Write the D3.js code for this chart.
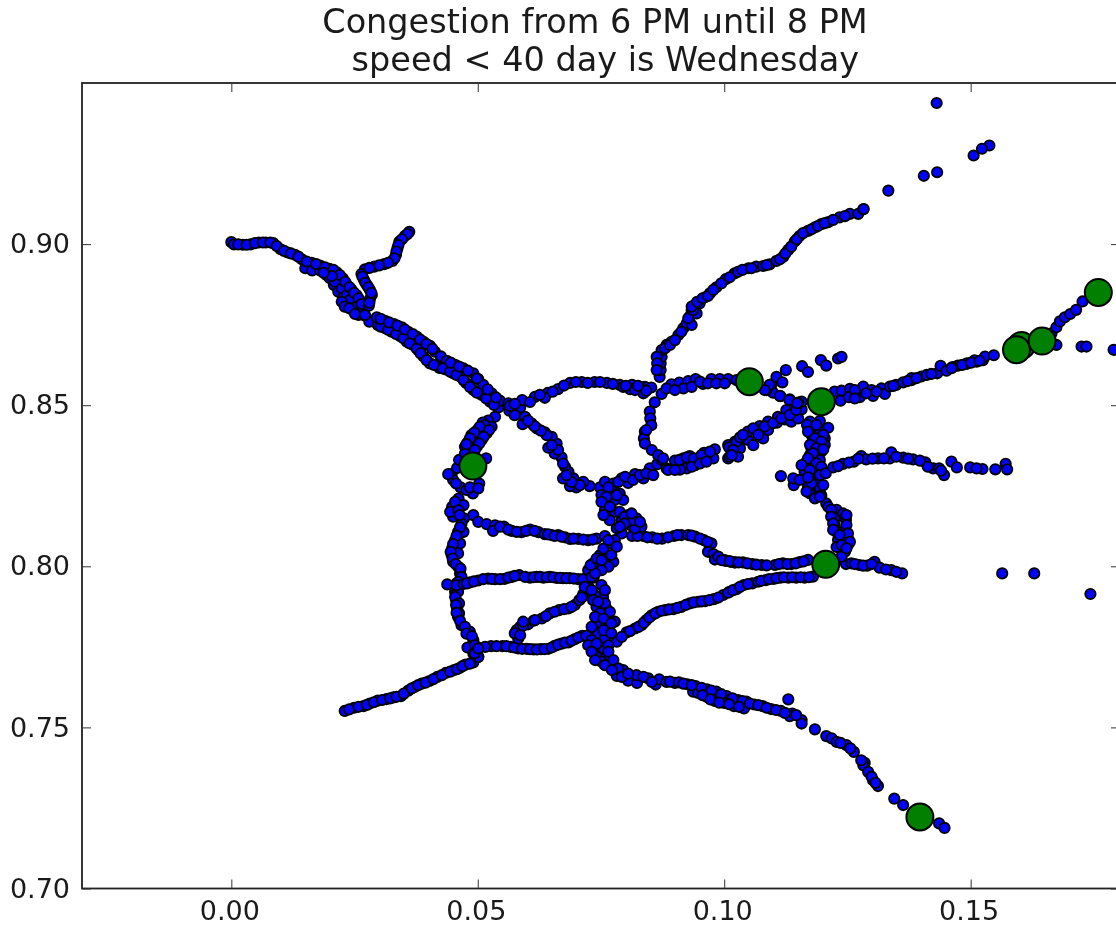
<!DOCTYPE html>
<html>
<head>
<meta charset="utf-8">
<script src="https://d3js.org/d3.v7.min.js"></script>
<style>
    html, body { margin: 0; padding: 0; background: #fff; overflow: hidden; }
    svg { filter: blur(0.5px); }
    text { font-family: "DejaVu Sans"; fill: #1a1a1a; }
</style>
</head>
<body>
<svg width="1116" height="927"></svg>
<script>
// all readings are [x, y] in thousandths
const roadNorthWest = [[0,900.6],[0.55,899.9],[2.3,899.8],[3.9,899.9],[5.6,900.5],[7,900.5],[8.5,900.3],[10,898.4],[11.4,897.4],[12.9,896.7],[14.3,895.3],[16.3,894.2],[18,893.3],[19.9,892.3],[21.4,891.2],[22.6,889.4],[23.5,887.3],[24.4,885.8],[25.4,884.2],
    [15,892.5],[16.4,891.8],[18,891.8],[19.3,890.4],[20.8,887.3],[21.7,885.2],[22.7,883.5],[23.5,881.6],[24.6,879.6],[25.8,878],[27.1,877.8],[28,875.9],
    [20,889.4],[21,888.3],[22.4,886.3],[23.4,884.2],[24.1,882.7],[25.4,880.6],[26.4,879.5],
    [29.7,874.9],[31.2,873.9],[32.5,872.8],[34.2,871.5],[35.6,869.7],[36.9,868.7],[37.9,867.1],[39,865.1],[40.3,863],[42.2,861.6],[43.5,861.1],[45,859.9],[46.4,858.9],[47.7,856.8],[49.1,854.7],[50.8,853.2],[52.5,851.1],[54.2,849.3],
    [29.5,877.3],[31.2,876.2],[33,875.2],[34.6,874.2],[35.9,872.8],[37.6,871.3],[39,869.7],[40.3,868.4],[41.3,866.6],[42.5,865.2],[43.7,863.8],[45.4,862.5],[47.1,861.4],[49.1,859.9],[50.1,858.1],[51.1,856.3],[52.8,853.7],[54.5,851.4],[56.2,850.6],
    [1.4,899.9],[3.1,899.8],[4.8,900.3],[6.4,900.5],[7.9,900.5],[9.2,899.4],[10.7,897.9],[12.1,897.1],[13.6,896.1],[15.3,894.6],[17.2,893.8],[19,892.8],[20.7,892],[22,890.4],[23.1,888.3],[24,886.6],[24.9,884.9],[25.8,883.2],[26.4,881.4],[20.4,890.1],[18.7,891.1],[22.4,882.1],[23,880.6],[23.9,880.1],[25.1,878.3],
    [30.3,874.4],[31.8,873.4],[33.4,872.1],[34.9,870.8],[36.2,869.2],[37.6,867.6],[38.4,866.1],[39.6,864],[41.1,862.5],[42.9,861.4],[44.4,860.4],[45.7,859.4],[47.1,857.8],[48.4,855.7],[49.8,853.9],[51.7,852.1],[53.3,850.1],
    [30.3,876.8],[32,875.7],[33.7,874.7],[35.2,873.5],[36.8,872.1],[38.3,870.4],[39.6,869],[40.8,867.5],[44.5,863.2],[46.2,862],[48,860.7],[49.8,858.3],[52,854.9],[53.7,852.4]];
const roadSpur = [[36.1,903.8],[35.2,902.5],[34.1,900.8],[33.7,898.7],[33.4,896.6],[32.7,894.8],[31,893.8],[29,893],[27.1,892.2],[26.4,890.7],[26.9,888.9],[27.5,887.3],[28.1,885.8],[28.5,884.2],[28.1,882.9],[27.9,880.9],[27.1,878],
    [35.7,903.1],[34.6,901.5],[33.9,899.7],[33.5,897.7],[33.1,895.6],[31.8,894.2],[30,893.4],[28,892.6],[26.6,889.9],[27.2,888],[27.8,886.6],[28.4,884.9],[28,881.8]];
const loopWest = [[53.5,846.4],[52.1,845.2],[51,844.6],[49.9,842.3],[48.7,840.7],[48.1,838.7],[47.4,837.1],[52.8,843.3],[51.8,841.3],[50.8,839.2],[49.8,837.1],[51.7,833.5],[50.3,825.7],[44.7,828.6],[45,826.8],[46.5,824.5],[49,822.6],[47.7,823.7],[46.1,821],[44.8,818.5],[45,815.4],[47.2,814.9],[47.1,819],[45.8,830.5],[46.2,833],[47.4,835],
    [46.7,813.3],[46,810.7],[45.4,808.1],[44.8,805.5],[44.7,803.5],[45,801.4],[46,799.9],[46.4,797.8],[45.7,794.7],[45.4,792.1],[45.6,789.5],[45.8,786.9],[46,784.3],[46.7,781.7],[48.4,779.7],[49.1,777.1],[50.1,774.8],[47.9,774.8],[47.1,810.7],[46.4,807.1],[46,804],
    [51.4,843.8],[50.4,843.3],[49.3,841.5],[48.4,839.7],[47.7,837.9],[52.3,842.3],[51.2,840.2],[50.3,838.1],[49.4,836.1],[44,828.6],[45.6,825.7],[48.4,824.5],[50.1,824.2],[45.4,820],[44.4,816.9],[46.1,817.4],[46.3,815.9],
    [46.4,812.1],[45.7,809.5],[45,806.9],[44.5,804.5],[44.9,802.4],[45.5,800.7],[46.5,799.3],[46.7,796.7],[46.1,795.2],[45.4,793.4],[46,792.1],[45.4,790.5],[46.2,788.5],[45.6,788],[46.2,785.4],[45.7,785.6],[46.4,783.1],[47.4,781.2],[47.7,779.1],[48.8,778.3],[49.4,775.5],[49.1,772.9],[50.1,771.9]];
const rowMiddle = [[49.1,815.9],[50.1,813.8],[51.8,813.1],[53.5,812.7],[53.1,811],[55.3,812.3],[56.9,811],[58.9,810.6],[60.6,811.4],[62.3,810.6],[63.6,810],[65,809.7],[66.3,809.7],[67.7,809],[68.7,808.5],[70.4,808.5],[72.4,808.1],[74.1,808.6],[75.8,809.4],
    [79.2,810.2],[81.3,809.4],[83.6,809.4],[85.4,809],[87.4,808.6],[89.8,809.4],[91.3,809.7],[92.7,809.7],[94.1,809.2],[95.9,808.1],[97.4,807.1],[96.7,804.5],[97.8,803.8],[98.1,802.1],[100.3,801.7],[102.2,801.2],
    [100.1,801.9],[102.1,801.2],[103.8,801.2],[105.7,800.7],[107.6,800.4],[110.3,800.4],[111.9,800.9],[113.6,800.7],[115.3,801.3],[117,802],[124.7,800.7],[125.8,800.9],[127.4,800.4],[129,800.2],[130.5,801.4],[131.5,799.6],[133.9,798.8],[136.1,797.8],
    [54.5,812.3],[56.2,811.4],[57.9,810.7],[59.8,811],[61.5,811],[64.3,809.9],[65.6,809.4],[67,809.2],[69.4,808.6],[71.4,808.3],[73.3,808.3],[82.4,809.4],[84.4,809],[86.4,808.6],[88.6,809],[90.5,809.7],[93.4,809.5],[95.1,808.6],[96.6,807.6],[98.8,803],[99.5,801.9],[101.3,801.4],
    [101.1,801.6],[102.9,801.2],[104.7,800.9],[106.5,800.5],[108.6,800.3],[111.1,800.7],[112.8,800.7],[114.5,800.9],[116.1,801.5],[126.5,800.7],[128.2,800.2],[129.9,800.7],[132.8,799],[134.9,798.3]];
const rowLower = [[43.8,794.4],[45.7,794.1],[47.1,794.5],[48.4,795],[50.1,795.6],[52.1,796.2],[53.5,796],[55.4,796.1],[56.9,796.7],[58.4,797.3],[60.6,796.5],[61.9,796.7],[63.3,796.5],[64.6,796.7],[66,796.4],[67.3,796.3],[68.7,796.3],[70.4,796],[72.2,795.9],
    [47.8,794.7],[49.2,795.3],[51.1,796],[52.8,796.1],[54.5,796],[56.2,796.5],[57.5,797],[59.6,796.7],[61.3,796.6],[62.6,796.7],[64,796.6],[65.3,796.6],[66.7,796.4],[68,796.3],[69.5,796.2],[71.3,796]];
const rowBottom = [[52.7,775.2],[55,775.2],[56.7,775],[58.2,774.5],[59.9,774.4],[61.3,774.2],[62.8,774.3],[64.3,774.4],[65.6,775.3],[67,776],[68.4,776.4],[69.7,777.4],[71.2,778.4],[72.8,778.4],[74.4,779.2],
    [51.5,775],[53.8,775.2],[55.8,775.2],[57.4,774.8],[59,774.4],[60.6,774.3],[62,774.2],[63.5,774.3],[65,774.8],[66.3,775.7],[67.7,776.3],[69,776.9],[70.4,777.9],[72,778.4]];
const branchDiagonal = [[58.2,777.6],[57.9,780.2],[58.6,781.2],[60.2,782],[61.3,783.1],[63,783.8],[64.6,785.4],[66.5,786.4],[68.4,786.9],[69.7,788],[71.4,791.4],[70.6,789.5],[72.4,798.8],[73.4,800.9],[74.4,800.4],[74.8,803.5],[76.1,802.4],[75.5,805.5],[77.1,807.1],[77.8,808.1],[77.5,801.4],[76.5,799.9],[75.1,798.8],[72.5,793.5],[73.5,796.5],
    [59.2,781.6],[61.6,783.3],[63.8,784.5],[65.6,785.9],[67.5,786.7],[69,787.4],[71.1,790.3],[59.2,782.8],[57.5,779.2],[58.6,778.6],[71.7,793.6],[73.1,796.7],[73.8,797.8],[72.9,800.4],[74.1,802.4],[75.1,801.9],[77.1,803.5],[78.2,806.1],[76.5,808.1]];
const clusterCentre = [[72.7,824.9],[74.8,824.5],[75.8,826.2],[77.5,825.7],[79.2,827.3],[80.5,825.9],[81.9,828.6],[83.6,827.3],[84.9,830.4],[86.4,831.7],[88.3,830.4],[75.1,822.1],[77.1,823.7],[78.8,822.6],[79.5,820.6],[77.8,820.6],[75.8,819.5],[77.8,816.9],[75.8,817.4],[76.8,814.3],[79.2,814.3],[80.5,815.9],[82.2,814.9],[83.2,812.3],[80.9,812.8],[81.9,811.8],[78.2,811.8],
    [76.5,824.5],[78.5,826.2],[79.9,827.8],[81.5,826.8],[82.9,828.3],[84.2,828.8],[85.6,828.3],[87.3,833],[88.6,829.9],[76.1,821.6],[78.2,822.1],[75.1,820],[76.8,818.5],[78.8,816.9],[75.5,815.9],[79.8,815.4],[81.5,814.3],[82.9,813.8],[79.8,813.3],[78.8,812.3],[81.2,816.4]];
const roadToEast = [[90,832.8],[91.7,833.5],[93,834.2],[94.7,833],[95.9,835.2],[98.1,836.3],[92.4,830.4],[91,830],[94.1,831.4],[97.8,833.5],[100.8,833.5],[100.8,837.6],[102.2,838.7],[103.2,836.6],
    [101,836.9],[102.5,838.7],[104.8,839.2],[104.8,841.8],[105.9,837.6],[107.2,843.5],[107.9,839.7],[108.9,844.9],[108.9,842.3],[110.7,844.6],[112.3,845.6],[113.6,844.9],[112.6,848.5],[115,845.9],[115.7,848.7],[101.1,834],[102.8,834],[101.8,836.1],[110.9,846.4],[114.3,849.6],[103.2,840],
    [122.4,854.2],[123.8,854.5],[125.5,855.1],[123.6,851.4],[125.3,852.5],[127.5,852.5],[128.2,855.8],[129.9,854.7],[130.2,852.9],[131.9,855.2],[132.6,853.5],[133.6,855.8],[134.9,856.3],[136.3,857.1],[138,857.8],[140,858.9],[141.1,859.4],[143.2,859.9],[143.9,862.2],[145.1,860.7],[147.4,862.3],[149.1,862.8],[151.2,863.5],[152.5,864],
    [146.3,861.8],[149.3,863],[150.8,863.9],[152.9,865.1],[154.7,865.5],[138,858.4],[167.4,868.7],[166.4,872.3],[167.4,874.2],[168.1,876],[169.1,877.3],[170.2,878.3],[171.4,879.6],[172.7,882.2],
    [90.9,833],[92.4,833.8],[93.8,833.5],[95.4,834.5],[97.1,835.6],[90,829.9],[93.4,830.9],[95.1,831.9],[96.4,832.5],[101.8,836.1],[101.5,834.5],
    [103.8,840.8],[105.9,842.8],[106.9,840.8],[108.2,843.4],[109.9,844.4],[111.6,845.9],[113.3,847],[114.6,848.5],[115.7,851.1],
    [126.5,854.7],[126.5,852.1],[128.8,853.7],[130.9,854.2],[134.3,856],[137.2,857.5],[139,858.4],[142,859.7],[146.1,861.5],[148.3,862.5],[150.1,863.2],[151.8,863.8]];
const diagonalNorthSouth = [[71.4,826.2],[70,824.5],[68.7,824.9],[67.3,827.3],[69.4,827.3],[68.4,829.3],[67.7,830.9],[67,833.8],[65.6,835],[64.3,836.8],[66,838.1],[65,840.2],[63.6,841.6],[62,842.8],[60.9,844.4],[59.1,844.1],[59.6,846.4],[58.6,849.3],[56.4,848.3],[57.5,846.9],
    [70.7,825.2],[69,826.2],[68,828.3],[67.3,831.9],[66.3,836.1],[65,837.6],[64,840.7],[62.8,842.1],[61.5,843.5],[60.2,845.2]];
const roadCentreNorth = [[56.5,849.8],[59,851.6],[61.6,852.6],[64.2,853.8],[66.3,855],[68.7,856.9],[71.1,857.2],[73.7,857.2],[76.2,856.9],[78.8,856.3],[81.3,856.3],[83.9,855.7],[60.6,851],[63.6,852.3],[80.9,855],[82.9,855.7],[85.2,855.5],[87.3,853.5],[89.3,856.5],[90.9,857],[92.7,857.5],[94.2,858.1],[97.4,858.1],[99.1,858.1],[100.8,858.1],[95.7,856.6],[91.7,855.2],[83.6,853.7],[102.5,857.8],
    [109.6,856.5],[109.9,853.9],[111.4,852.8],[113.3,851.8],[115,850.8],[108.6,854.7],[109.2,856.3],[108.2,854.7],[111.3,852.9],[113.2,851.6],[114.8,850.6],
    [79.5,855.7],[81.9,854.7],[84.2,854.5],[88.3,855.2],[90,854.7],[93.4,855.7],[95.1,857.3],[96.7,856.8],[98.4,856.8],[100.1,856.8],
    [57.5,850.4],[62.6,853.2],[65.2,854.2],[67.5,856.1],[69.9,857.2],[72.3,856.9],[74.8,857.2],[77.4,856.6],[80,856],[82.5,856]];
const roadNorthEast = [[86.9,858.8],[87.1,860.9],[87.1,863],[87.3,865],[87.3,867.1],[88.3,868.7],[89.3,869.7],[90.7,871.8],[91.7,873.9],[92.4,875.4],[93,877.5],[93.4,879.5],[94,881.1],[96.1,883.5],[97.1,884.7],[98.4,886.6],[100.3,889.1],[102.1,890.9],[104.9,892.5],[106.5,893],[107.9,893.2],[109.2,893.7],[110.6,894.8],[112,896.1],[113,898.2],[114.3,900.8],[115.3,902.5],[117,904.1],[118.4,905.2],[119.7,906.2],[121.1,906.8],[123.4,908.3],[125.5,909.4],[127.2,909.4],[128.2,910.8],[94.4,878.5],[93.4,874.9],
    [85.9,850.9],[84.9,848],[85,845.9],[85.2,843.8],[83.9,841.8],[83.7,839.7],[83.9,838.1],[85.3,836.1],[86.6,834.5],[87.6,833.5],
    [86.3,865],[86.4,863],[86.3,860.9],[88,867.7],[89,868.7],[90,870.2],[91.3,872.8],[92.7,877],[93.7,879.5],[93.4,880.6],[95,881.6],[94.5,882.1],[95.6,883.2],[96.7,883.9],[97.8,885.8],[99.4,887.8],[101.1,889.7],[102.8,891.4],[103.7,892],[105.5,892.5],[108.6,893.5],[111.3,895.3],[112.4,897.1],[113.6,899.2],[114.7,901.5],[116,903.4],[117.7,904.6],[119,905.6],[120.4,906.5],[122.1,907.5],[124.5,908.7],[84.2,842.3]];
const roadEastVertical = [[117.4,844.9],[119.4,845.1],[117.4,842.8],[121.1,843],[119.4,841.8],[117.7,840.8],[120.4,839.7],[118,838.7],[120.4,837.7],[117.7,836.6],[119.7,835.6],[117.4,834.5],[119.4,833],[116.7,832.5],[116.3,830.7],[118.4,830.7],[116.3,829.4],[118.4,828.3],[117,827.3],[119,826.3],[117,824.7],[119.4,824.2],[117.4,822.6],[118.4,821.1],[119.7,822],[120.7,819.5],[121.1,818.5],[122.8,817.5],[124.1,816.4],[122.4,814.9],[124.7,814.4],[122.4,812.8],[124.5,811.3],[122.8,810.7],[125.1,808.7],[123.1,808.2],[125.1,806.6],[124.5,804.5],[122.8,806],[123.8,803],
    [116.8,843.9],[118.7,843.9],[117,841.8],[120.1,840.8],[118.4,839.7],[119.7,838.7],[117.4,837.7],[118.7,836.6],[120.1,836.3],[118,835.1],[117,833.5],[118.7,832],[119.7,830.9],[115.7,831.4],[117.4,829.9],[119.4,828.3],[117.7,825.7],[120.1,825.2],[116.7,823.2],[119.4,821.6],[121.7,817.5],[124.8,815.9],[121.7,815.4],[122.1,813.3],[124.8,812.8],[122.1,811.3],[125.1,810.2],[123.4,809.7],[125.5,807.6],[123.8,806.6],[124.8,805.6]];
const branchEast = [[111.5,828],[114.1,825.2],[114,827.3],[115.3,826.8],[117,827.6],[120.6,828.9],[122.1,830.7],[124.1,831.8],[126.3,832.5],[127.8,834.2],[128.8,833.2],[131.2,833.5],[133.6,833.5],[133.9,835.4],[136.3,833.7],[138.3,833.2],[140.8,832.3],[142.4,830.4],[143.6,830.4],[144.6,828.3],[146.1,832.5],[147.2,830.7],[149.9,830.7],[152.4,830.2],[155,830.1],[157.1,831.8],[157.4,830.1],
    [123.1,831.1],[125.3,832.2],[127.2,833.4],[130.1,833.4],[132.4,833.5],[134.9,834],[137.3,833.4],[139.7,832.8],[141.3,830.9],[144,829.7],[151.2,830.4]];
const roadSouthEastUpper = [[78.2,776.6],[80.2,779.5],[81.9,780.7],[83.2,781.7],[84.2,783.3],[85.3,784.8],[86.6,785.9],[88,786.4],[89.7,786.7],[91.3,787.4],[93,788.5],[94.7,789],[96.1,789.2],[97.9,789.8],[99.8,791.1],[101.1,792.1],[102.5,792.9],[104,794.2],[105.7,794.7],[106.9,795.2],[108.4,795.7],[110,796.1],[111.4,796.5],[113,796.5],[114.6,796.5],[116.3,796.5],[118,796.8],
    [79.2,778.1],[80.9,779.9],[82.6,781.2],[83.7,782.5],[84.8,784.1],[86,785.4],[87.3,786.2],[88.8,786.6],[90.5,787.1],[92.2,788],[93.8,788.8],[95.4,789.1],[97,789.5],[98.8,790.3],[100.8,791.8],
    [101.8,792.6],[103.2,793.6],[104.8,794.5],[107.5,795.5],[109.1,796],[110.6,796.3],[112.1,796.6],[113.8,796.6],[115.5,796.6],[117.2,796.6]];
const centralVertical = [[75.1,794.2],[75.4,790.5],[73.8,791],[74.1,787.4],[76.1,786.9],[74.8,785.4],[76.5,784.3],[74.1,782.3],[77.8,782.8],[76.5,780.7],[75.8,777.6],[73.1,777.1],[73.4,774.5],[75.5,774.5],[74.1,771.9],[76.1,771.9],[75.1,770.4],[76.8,769.3],[78.2,766],[79.5,767.8],[80.5,764.5],[82.3,763.8],[82.2,766.2],[84.6,765.2],[86.1,763.3],[86.8,764.9],
    [75.8,792.6],[73.1,792.6],[73.4,789.5],[75.8,788.5],[74.4,789],[76.8,785.9],[73.8,784.3],[75.5,783.8],[77.1,782.3],[73.1,781.2],[75.5,780.2],[77.1,779.2],[72.4,775.5],[74.1,776],[76.5,775.5],[73.1,773.5],[76.5,773.5],[73.8,770.9],[77.5,770.9],[75.8,769.3],[78.5,768.3],[77.2,767.8],[79.2,765.7],[80.5,766.7],[83.6,765.7],[85.3,764.1],[88.3,764.1],[90,763.8]];
const roadSouthEast = [[89,764.2],[90.8,764],[92.5,763.4],[94.2,762.8],[96.5,761.8],[98.4,761.1],[100.5,759.7],[102.8,758.5],[104.5,758],[106.1,757.1],[107.8,756.6],[109.5,755.7],[111.5,755.1],[113,758.7],[113.8,754.3],[115.7,752.3],[115.7,751.2],[93.7,761.1],[94.7,760.7],[96.4,759.5],[98.1,758.2],[100,757.6],[102,756.6],[104,755.9],[113.3,753.5],
    [118.4,749.4],[120.7,747.3],[121.8,746.6],[122.8,745.5],[124.8,744.5],[126.3,742.4],[128.5,739],[128.2,738.3],[129.2,736.2],[130.2,733.6],[131.2,731.8],[134.5,727.9],[136.3,725.9],[143.6,720.2],[144.7,718.8],
    [91.7,763.6],[93.4,763.1],[95.4,762.3],[97.4,761.4],[99.4,760.3],[101.7,759],[103.7,758.2],[105.2,757.4],[106.9,756.9],[108.6,756.1],[110.5,755.4],[112.3,754.5],[114.6,753.8],[95.6,760],[97.2,758.7],[99,757.7],[101,757.2],[103,756.4],[123.6,745.2],[125.6,743.5],[127.8,739.8],[129.9,734.7],[130.7,732.8]];
const roadSouthWest = [[23,755.1],[24.9,756.1],[26.8,756.6],[28.1,757.4],[29.7,758.3],[31.5,758.8],[32.9,759.3],[34.4,759.7],[35.9,761.4],[37.3,762.6],[38.6,763.6],[40.2,764.4],[41.8,765.7],[43.5,766.9],[45.2,767.8],[46.4,768.5],[47.5,769.5],[49.1,770.2],[50.1,771.9],[49.4,773],[50.1,774.5],
    [23.9,755.6],[25.8,756.4],[27.5,757],[28.9,757.8],[30.6,758.5],[32.2,759],[33.5,759.5],[35,760.5],[36.6,762.1],[37.9,763.1],[39.4,763.9],[41,765],[42.7,766.2],[44.4,767.3],[45.8,768.1],[46.9,769],[48.4,769.8]];
const isolated = [[143.1,943.8],[153.8,930.6],[152.3,929.6],[150.6,927.5],[143.2,922.3],[140.5,921.2],[133.3,916.6],[128.3,910.9],[110.6,858.8],[112.5,860.9],[111.8,857.1],[115.8,862.1],[117,860.3],[119.6,864],[120.7,862.3],[123.1,864.5],[123.8,865],[172.5,868.2],[173.5,868.2],[179,867.2],[156.4,797.8],[162.9,797.8],[174.3,791.4]];

// congested points, drawn over the others
const congested = [[49,831.1],[105.1,857.3],[119.7,851.1],[120.6,800.6],[139.7,722.2],[160.3,868.5],[159.3,867.2],[164.5,869.9],[175.9,885]];

const xTicks = [0, 0.05, 0.10, 0.15];
const yTicks = [0.70, 0.75, 0.80, 0.85, 0.90];
const titleLines = ["Congestion from 6 PM until 8 PM", " speed < 40 day is Wednesday"];

const allPoints = [].concat(roadNorthWest, roadSpur, loopWest, rowMiddle, rowLower, rowBottom, branchDiagonal,
    clusterCentre, roadToEast, diagonalNorthSouth, roadCentreNorth, roadNorthEast, roadEastVertical, branchEast,
    roadSouthEastUpper, centralVertical, roadSouthEast, roadSouthWest, isolated);

const svg = d3.select("svg");
const mgLeft = 82, mgRight = 1120, mgTop = 83, mgBottom = 888.5;

const xs = d3.scaleLinear().domain([-0.0303, 0.1803]).range([mgLeft, mgRight]);
const ys = d3.scaleLinear().domain([0.70, 0.95]).range([mgBottom, mgTop]);

// blue points
svg.append("g")
    .selectAll("circle")
    .data(allPoints)
    .enter()
    .append("circle")
    .attr("cx", d => xs(d[0] / 1000))
    .attr("cy", d => ys(d[1] / 1000))
    .attr("r", 5.2)
    .attr("fill", "#0000ff")
    .attr("stroke", "#000")
    .attr("stroke-width", 1.8);

// green points
svg.append("g")
    .selectAll("circle")
    .data(congested)
    .enter()
    .append("circle")
    .attr("cx", d => xs(d[0] / 1000))
    .attr("cy", d => ys(d[1] / 1000))
    .attr("r", 13.5)
    .attr("fill", "#007f00")
    .attr("stroke", "#000")
    .attr("stroke-width", 2);

// frame
svg.append("rect")
    .attr("x", mgLeft)
    .attr("y", mgTop)
    .attr("width", mgRight - mgLeft)
    .attr("height", mgBottom - mgTop)
    .attr("fill", "none")
    .attr("stroke", "#222")
    .attr("stroke-width", 1.8);

// axes, with matplotlib style inward ticks on all four sides
function styleAxis(g) {
    g.select(".domain").remove();
    g.selectAll(".tick line").attr("stroke", "#333").attr("stroke-width", 1);
    g.selectAll(".tick text").style("font-size", "27px").style("font-family", "DejaVu Sans");
}

svg.append("g")
    .attr("transform", "translate(0," + mgBottom + ")")
    .call(d3.axisBottom(xs).tickValues(xTicks).tickSize(-9).tickPadding(12).tickFormat(d3.format(".2f")))
    .call(styleAxis)
    .selectAll(".tick text").attr("dx", -2);
svg.append("g")
    .attr("transform", "translate(0," + mgTop + ")")
    .call(d3.axisTop(xs).tickValues(xTicks).tickSize(-9).tickFormat(""))
    .call(styleAxis);
svg.append("g")
    .attr("transform", "translate(" + mgLeft + ",0)")
    .call(d3.axisLeft(ys).tickValues(yTicks).tickSize(-9).tickPadding(12).tickFormat(d3.format(".2f")))
    .call(styleAxis);
svg.append("g")
    .attr("transform", "translate(" + mgRight + ",0)")
    .call(d3.axisRight(ys).tickValues(yTicks).tickSize(-9).tickFormat(""))
    .call(styleAxis);

// title
svg.append("g")
    .selectAll("text")
    .data(titleLines)
    .enter()
    .append("text")
    .attr("x", (d, i) => 595 + i * 5)
    .attr("y", (d, i) => 33 + i * 38)
    .attr("text-anchor", "middle")
    .style("white-space", "pre")
    .style("font-size", "33.5px")
    .text(d => d);
</script>
</body>
</html>
